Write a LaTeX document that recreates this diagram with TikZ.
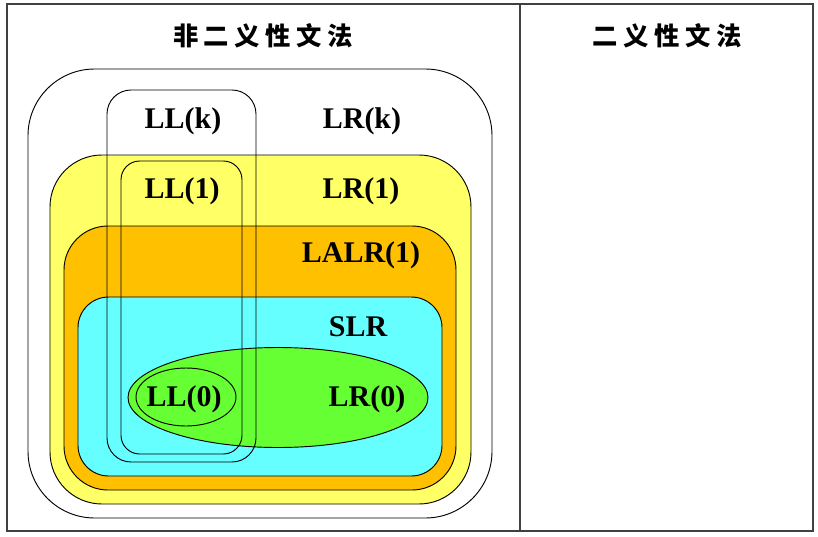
\documentclass[tikz,border=0pt]{standalone}
\usepackage{fontspec}
\setmainfont{Liberation Serif}
\newfontfamily\cjk{Noto Sans CJK SC}
\definecolor{frameg}{HTML}{404040}
\definecolor{ylw}{HTML}{FFFF66}
\definecolor{org}{HTML}{FFC000}
\definecolor{cyn}{HTML}{66FFFF}
\definecolor{grn}{HTML}{66FF33}
\tikzset{
  setline/.style={draw=black, line width=0.7pt},
  lbl/.style={font=\fontsize{22.5pt}{26pt}\selectfont\bfseries, inner sep=0pt},
  ttl/.style={font=\fontsize{19pt}{22pt}\selectfont\cjk\bfseries, inner sep=0pt},
}
\newcommand{\chsp}{\kern 4.2pt}
\begin{document}
\begin{tikzpicture}[x=0.75pt,y=-0.75pt]
\useasboundingbox (0,0) rectangle (818,536);
% outer table
\draw[frameg, line width=0.9pt] (7,4) rectangle (813,531);
\draw[frameg, line width=0.9pt] (520,4) -- (520,531);
\node[ttl] (t1) at (263,36) {非\chsp 二\chsp 义\chsp 性\chsp 文\chsp 法};
\node[ttl] (t2) at (667,36) {二\chsp 义\chsp 性\chsp 文\chsp 法};
% nested sets
\draw[setline, fill=white, rounded corners=50pt] (28,69) rectangle (492,518);
\draw[setline, fill=ylw, rounded corners=39pt] (50,155) rectangle (471,504);
\draw[setline, fill=org, rounded corners=33pt] (64,226) rectangle (456,490);
\draw[setline, fill=cyn, rounded corners=23pt] (78,297) rectangle (442,476);
\draw[setline, fill=grn] (278,397.5) ellipse [x radius=150, y radius=50];
\draw[setline] (186,397) ellipse [x radius=50, y radius=29];
% LL boxes
\draw[setline, rounded corners=18pt] (107,90) rectangle (256,462);
\draw[setline, rounded corners=14pt] (121,161) rectangle (242,454);
% labels
\node[lbl] (llk) at (183,121) {LL(k)};
\node[lbl] (lrk) at (362,121) {LR(k)};
\node[lbl] (ll1) at (182,191) {LL(1)};
\node[lbl] (lr1) at (361,191) {LR(1)};
\node[lbl] (lalr) at (361,255) {LALR(1)};
\node[lbl] (slr) at (358,327) {SLR};
\node[lbl] (ll0) at (184,399) {LL(0)};
\node[lbl] (lr0) at (367,399) {LR(0)};
\end{tikzpicture}
\end{document}
